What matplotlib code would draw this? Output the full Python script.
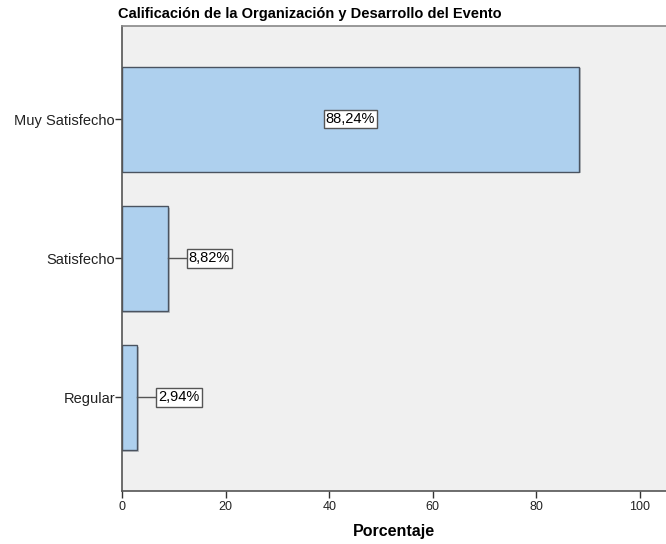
import matplotlib
matplotlib.use("Agg")
import matplotlib.pyplot as plt

plt.rcParams['font.family'] = ['Liberation Sans', 'DejaVu Sans']

categories = ["Regular", "Satisfecho", "Muy Satisfecho"]
values = [2.94, 8.82, 88.24]
labels = ["2,94%", "8,82%", "88,24%"]
xticks = [0, 20, 40, 60, 80, 100]

fig = plt.figure(figsize=(6.66, 5.44), dpi=100)
ax = fig.add_axes([122/666, 1-491/544, 1-122/666, (491-25.7)/544])
ax.set_facecolor('#f0f0f0')

pos = list(range(len(categories)))
# shadow
ax.barh([p - 0.012 for p in pos], [v + 0.35 for v in values], height=0.755,
        color='#8a8f96', alpha=0.5, zorder=1)
ax.barh(pos, values, height=0.755, color='#aed0ee', edgecolor='#4a5360',
        linewidth=1.0, zorder=2)

px = 5.18  # px per unit
for p, v, lab in zip(pos, values, labels):
    if v > 30:
        ax.text(v/2, p, lab, ha='center', va='center', fontsize=10.5, zorder=5,
                bbox=dict(boxstyle='square,pad=0.15', fc='white', ec='#555555', lw=1))
    else:
        x0 = v
        xb = v + 19/px
        ax.plot([x0, xb], [p, p], color='#555555', lw=1, zorder=4)
        ax.text(xb + 2/px, p, lab, ha='left', va='center', fontsize=10.5, zorder=5,
                bbox=dict(boxstyle='square,pad=0.15', fc='white', ec='#555555', lw=1))

ax.set_xlim(0, (666-122)/px)
ax.set_ylim(-0.673, 2.673)
ax.set_xticks(xticks)
ax.set_xticklabels([str(t) for t in xticks], fontsize=9)
ax.set_yticks(pos)
ax.set_yticklabels(categories, fontsize=10.5)
ax.tick_params(axis='both', colors='#333333', length=5, width=1)
ax.tick_params(axis='x', pad=2)
ax.tick_params(axis='y', pad=0)
for lab in ax.get_xticklabels() + ax.get_yticklabels():
    lab.set_color('#222222')

for s in ['left', 'bottom']:
    ax.spines[s].set_color('#555555')
    ax.spines[s].set_linewidth(1.2)
ax.spines['top'].set_color('#888888')
ax.spines['top'].set_linewidth(1.2)
ax.spines['right'].set_visible(False)

ax.set_xlabel("Porcentaje", fontsize=11.5, fontweight='bold', labelpad=8)
fig.text(0.5-0.035, 1-14/544, "Calificación de la Organización y Desarrollo del Evento",
         ha='center', va='center', fontsize=10.5, fontweight='bold')

fig.savefig("out.png", dpi=100)
